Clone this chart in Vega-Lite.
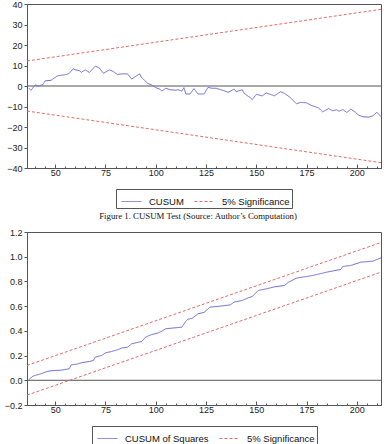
{
  "$schema": "https://vega.github.io/schema/vega-lite/v6.json",
  "padding": {"left": 3, "top": -1, "right": 8, "bottom": 0},
  "background": "white",
  "spacing": 6,
  "datasets": {
    "cusum": [
      {"t":37,"v":-1.1},{"t":38,"v":-2.1},{"t":40,"v":0.5},{"t":42,"v":0},{"t":44,"v":0.8},{"t":45,"v":2.5},{"t":48,"v":2.8},{"t":51,"v":4.9},{"t":54,"v":5.4},{"t":56,"v":5.7},{"t":57,"v":6.2},{"t":59,"v":8.4},{"t":60,"v":7.9},{"t":62,"v":7.5},{"t":63,"v":6.7},{"t":65,"v":7.9},{"t":67,"v":6.6},{"t":70,"v":9.7},{"t":72,"v":8.7},{"t":74,"v":6.2},{"t":77,"v":7.9},{"t":79,"v":7.0},{"t":81,"v":5.6},{"t":83,"v":5.9},{"t":86,"v":5.9},{"t":88,"v":3.4},{"t":92,"v":5.9},{"t":93,"v":4.1},{"t":96,"v":1.3},{"t":98,"v":0.5},{"t":100,"v":-0.8},{"t":102,"v":-1.5},{"t":103,"v":-2.5},{"t":105,"v":-1.1},{"t":107,"v":-1.8},{"t":110,"v":-2.1},{"t":111,"v":-1.8},{"t":113,"v":-2.5},{"t":114,"v":-0.8},{"t":115,"v":-3.9},{"t":117,"v":-3.9},{"t":119,"v":-1.3},{"t":121,"v":-3.9},{"t":124,"v":-3.9},{"t":126,"v":-0.7},{"t":128,"v":-1.1},{"t":130,"v":-1.1},{"t":134,"v":-2.3},{"t":136,"v":-3.1},{"t":139,"v":-1.5},{"t":140,"v":-2.8},{"t":143,"v":-1.8},{"t":144,"v":-3.6},{"t":147,"v":-5.7},{"t":148,"v":-6.6},{"t":150,"v":-4.1},{"t":153,"v":-4.8},{"t":155,"v":-3.4},{"t":158,"v":-4.4},{"t":159,"v":-4.8},{"t":162,"v":-2.8},{"t":164,"v":-3.6},{"t":167,"v":-5.7},{"t":170,"v":-8.7},{"t":172,"v":-8.0},{"t":175,"v":-8.2},{"t":177,"v":-9.3},{"t":181,"v":-10.7},{"t":183,"v":-12.6},{"t":186,"v":-11.0},{"t":188,"v":-12.1},{"t":190,"v":-11.6},{"t":191,"v":-12.3},{"t":193,"v":-11.5},{"t":195,"v":-12.9},{"t":197,"v":-11.3},{"t":199,"v":-12.6},{"t":201,"v":-14.3},{"t":203,"v":-15.0},{"t":206,"v":-15.2},{"t":208,"v":-14.5},{"t":210,"v":-12.8},{"t":212,"v":-15.0}
    ],
    "cusumBands": [
      {"t":36,"v":12.2,"band":"upper"},{"t":212,"v":37.4,"band":"upper"},
      {"t":36,"v":-12.2,"band":"lower"},{"t":212,"v":-37.4,"band":"lower"}
    ],
    "sq": [
      {"t":37,"v":0.006},{"t":39,"v":0.034},{"t":43,"v":0.053},{"t":46,"v":0.071},{"t":48,"v":0.077},{"t":53,"v":0.082},{"t":57,"v":0.093},{"t":58,"v":0.125},{"t":61,"v":0.131},{"t":63,"v":0.142},{"t":67,"v":0.152},{"t":69,"v":0.16},{"t":70,"v":0.188},{"t":73,"v":0.2},{"t":75,"v":0.222},{"t":78,"v":0.233},{"t":81,"v":0.247},{"t":83,"v":0.26},{"t":86,"v":0.268},{"t":88,"v":0.295},{"t":93,"v":0.314},{"t":95,"v":0.35},{"t":98,"v":0.37},{"t":101,"v":0.382},{"t":103,"v":0.398},{"t":105,"v":0.417},{"t":113,"v":0.43},{"t":115,"v":0.479},{"t":116,"v":0.495},{"t":118,"v":0.5},{"t":121,"v":0.538},{"t":124,"v":0.549},{"t":127,"v":0.592},{"t":132,"v":0.6},{"t":137,"v":0.61},{"t":139,"v":0.633},{"t":143,"v":0.646},{"t":146,"v":0.667},{"t":148,"v":0.678},{"t":151,"v":0.727},{"t":155,"v":0.74},{"t":159,"v":0.756},{"t":164,"v":0.767},{"t":166,"v":0.794},{"t":170,"v":0.827},{"t":178,"v":0.848},{"t":185,"v":0.875},{"t":192,"v":0.897},{"t":193,"v":0.921},{"t":197,"v":0.929},{"t":202,"v":0.956},{"t":208,"v":0.964},{"t":212,"v":0.991}
    ],
    "sqBands": [
      {"t":36,"v":0.12,"band":"upper"},{"t":212,"v":1.115,"band":"upper"},
      {"t":36,"v":-0.12,"band":"lower"},{"t":212,"v":0.875,"band":"lower"}
    ]
  },
  "vconcat": [
    {
      "width": 354,
      "height": 164,
      "title": {"text": "Figure 1.   CUSUM Test (Source: Author’s Computation)", "orient": "bottom", "anchor": "middle", "font": "Liberation Serif", "fontSize": 8.8, "fontWeight": "normal", "color": "#111", "offset": 3, "dx": -6},
      "layer": [
        {
          "data": {"values": [{"z": 0}]},
          "mark": {"type": "rule", "color": "#555", "strokeWidth": 1},
          "encoding": {"y": {"field": "z", "type": "quantitative", "axis": {"values": [-40,-30,-20,-10,0,10,20,30,40], "tickSize": 3, "labelOverlap": false}}}
        },
        {
          "data": {"name": "cusumBands"},
          "transform": [{"calculate": "'5% Significance'", "as": "series"}],
          "mark": {"type": "line", "strokeWidth": 1},
          "encoding": {
            "x": {"field": "t", "type": "quantitative", "scale": {"domain": [36, 212], "nice": false, "zero": false},
                  "axis": {"orient": "bottom", "values": [40,45,55,60,65,70,80,85,90,95,105,110,115,120,130,135,140,145,155,160,165,170,180,185,190,195,205,210], "labels": false, "domain": false, "tickSize": -2}},
            "y": {"field": "v", "type": "quantitative", "axis": {"values": [-40,-30,-20,-10,0,10,20,30,40], "tickSize": 3, "labelOverlap": false}},
            "detail": {"field": "band"},
            "color": {"field": "series", "type": "nominal", "scale": {"domain": ["CUSUM", "5% Significance"], "range": ["#6b6bd6", "#e36b6b"]}, "legend": {"title": null}},
            "strokeDash": {"field": "series", "type": "nominal", "scale": {"domain": ["CUSUM", "5% Significance"], "range": [[1, 0], [3, 2]]}, "legend": {"title": null}}
          }
        },
        {
          "data": {"name": "cusum"},
          "transform": [{"calculate": "'CUSUM'", "as": "series"}],
          "mark": {"type": "line", "strokeWidth": 1},
          "encoding": {
            "x": {"field": "t", "type": "quantitative", "axis": {"orient": "bottom", "values": [50, 75, 100, 125, 150, 175, 200], "tickSize": -4, "labelPadding": 4}},
            "y": {"field": "v", "type": "quantitative", "scale": {"domain": [-40, 40], "nice": false},
                  "axis": {"values": [-40,-30,-20,-10,0,10,20,30,40], "tickSize": 3, "labelOverlap": false}},
            "color": {"field": "series", "type": "nominal"},
            "strokeDash": {"field": "series", "type": "nominal"}
          }
        }
      ],
      "resolve": {"axis": {"x": "independent"}}
    },
    {
      "width": 354,
      "height": 173,
      "layer": [
        {
          "data": {"values": [{"z": 0}]},
          "mark": {"type": "rule", "color": "#555", "strokeWidth": 1},
          "encoding": {"y": {"field": "z", "type": "quantitative", "axis": {"values": [-0.2,0,0.2,0.4,0.6,0.8,1.0,1.2], "format": ".1f", "tickSize": 3, "labelOverlap": false}}}
        },
        {
          "data": {"name": "sqBands"},
          "transform": [{"calculate": "'5% Significance'", "as": "series"}],
          "mark": {"type": "line", "strokeWidth": 1},
          "encoding": {
            "x": {"field": "t", "type": "quantitative", "scale": {"domain": [36, 212], "nice": false, "zero": false},
                  "axis": {"orient": "bottom", "values": [40,45,55,60,65,70,80,85,90,95,105,110,115,120,130,135,140,145,155,160,165,170,180,185,190,195,205,210], "labels": false, "domain": false, "tickSize": -2}},
            "y": {"field": "v", "type": "quantitative", "axis": {"values": [-0.2,0,0.2,0.4,0.6,0.8,1.0,1.2], "format": ".1f", "tickSize": 3, "labelOverlap": false}},
            "detail": {"field": "band"},
            "color": {"field": "series", "type": "nominal", "scale": {"domain": ["CUSUM of Squares", "5% Significance"], "range": ["#6b6bd6", "#e36b6b"]}, "legend": {"title": null}},
            "strokeDash": {"field": "series", "type": "nominal", "scale": {"domain": ["CUSUM of Squares", "5% Significance"], "range": [[1, 0], [3, 2]]}, "legend": {"title": null}}
          }
        },
        {
          "data": {"name": "sq"},
          "transform": [{"calculate": "'CUSUM of Squares'", "as": "series"}],
          "mark": {"type": "line", "strokeWidth": 1},
          "encoding": {
            "x": {"field": "t", "type": "quantitative", "axis": {"orient": "bottom", "values": [50, 75, 100, 125, 150, 175, 200], "tickSize": -4, "labelPadding": 4}},
            "y": {"field": "v", "type": "quantitative", "scale": {"domain": [-0.2, 1.2], "nice": false},
                  "axis": {"values": [-0.2,0,0.2,0.4,0.6,0.8,1.0,1.2], "format": ".1f", "tickSize": 3, "labelOverlap": false}},
            "color": {"field": "series", "type": "nominal"},
            "strokeDash": {"field": "series", "type": "nominal"}
          }
        }
      ],
      "resolve": {"axis": {"x": "independent"}}
    }
  ],
  "resolve": {"scale": {"color": "independent", "strokeDash": "independent"}, "legend": {"color": "independent", "strokeDash": "independent"}},
  "config": {
    "view": {"stroke": "#555", "strokeWidth": 1},
    "axis": {"grid": false, "title": null, "labelFont": "Liberation Sans", "labelFontSize": 9, "labelColor": "#222", "domainColor": "#555", "tickColor": "#555", "labelPadding": 2, "labelOverlap": false, "labelBound": false},
    "legend": {"orient": "bottom", "direction": "horizontal", "strokeColor": "#555", "padding": 2, "symbolOffset": 3, "symbolType": "stroke", "symbolSize": 400, "symbolStrokeWidth": 1, "labelFont": "Liberation Sans", "labelFontSize": 9.5, "labelColor": "#111", "columnPadding": 7, "labelOffset": 7, "offset": 12, "layout": {"bottom": {"anchor": "middle"}}}
  }
}
